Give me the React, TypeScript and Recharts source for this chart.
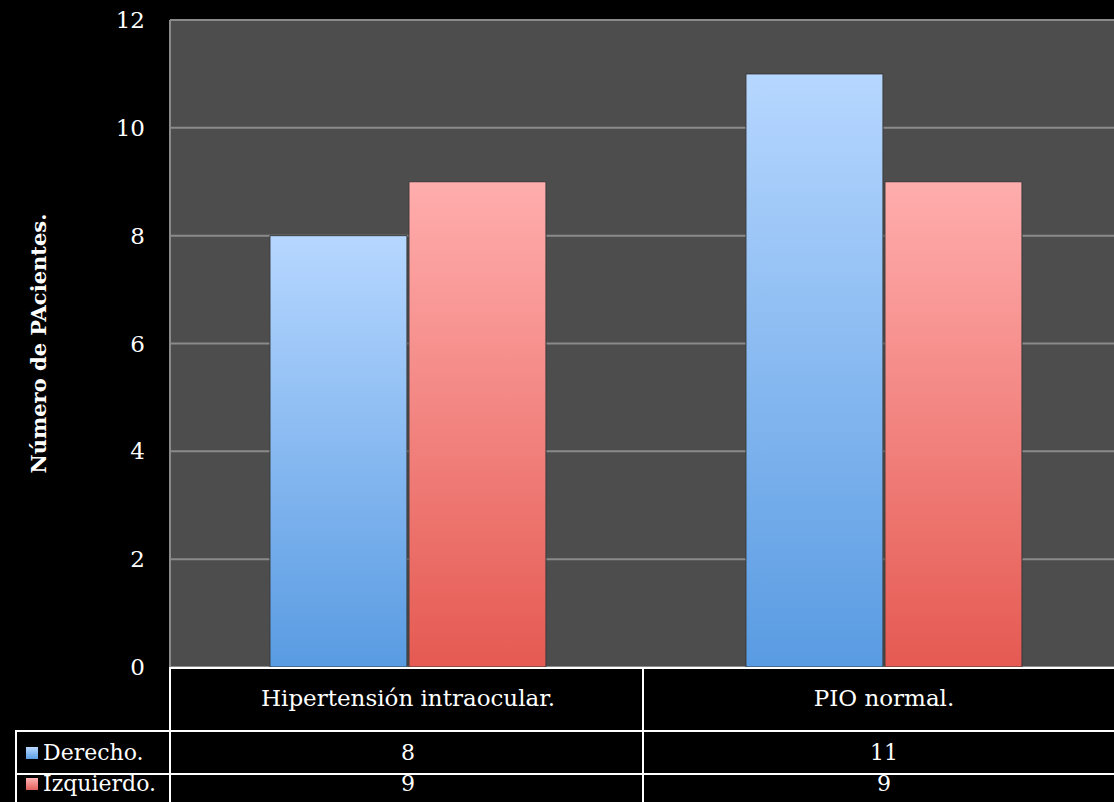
import React from "react";
import { BarChart, Bar, XAxis, YAxis, CartesianGrid } from "recharts";

const categories = ["Hipertensión intraocular.", "PIO normal."];
const derecho = [8, 11];
const izquierdo = [9, 9];
const seriesNames = ["Derecho.", "Izquierdo."];
const yTicks = [0, 2, 4, 6, 8, 10, 12];

const W = 1114;
const H = 802;
const PLOT_LEFT = 170;
const PLOT_TOP = 20;
const PLOT_BOTTOM = 667;
const OVERHANG = 8; // plot runs a little past the right edge
const FONT = "'DejaVu Serif', 'Liberation Serif', serif";

const data = categories.map((c, i) => ({ name: c, derecho: derecho[i], izquierdo: izquierdo[i] }));

const line = "#ffffff";

function Table() {
  const colW = (W + OVERHANG - PLOT_LEFT) / categories.length;
  // last row is cut by the bottom edge, so its text sits a bit higher
  const rows = [
    { top: 730, h: 43, values: derecho, color: "blue", textH: 41 },
    { top: 773, h: 29, values: izquierdo, color: "red", textH: 17 },
  ];
  const cellText: React.CSSProperties = {
    position: "absolute",
    color: "#fff",
    fontFamily: FONT,
    fontSize: 22,
    display: "flex",
    alignItems: "center",
    justifyContent: "center",
    boxSizing: "border-box",
    whiteSpace: "nowrap",
  };
  return (
    <>
      {/* category header row */}
      <div style={{ position: "absolute", left: PLOT_LEFT, top: PLOT_BOTTOM, width: W - PLOT_LEFT, height: 2, background: line }} />
      {categories.map((c, i) => (
        <div key={c} style={{ ...cellText, fontSize: 23, left: PLOT_LEFT + i * colW, top: PLOT_BOTTOM + 1, width: colW, height: 59 }}>
          {c}
        </div>
      ))}
      {rows.map((r, ri) => (
        <React.Fragment key={ri}>
          <div style={{ position: "absolute", left: 16, top: r.top, width: W - 16, height: 2, background: line }} />
          <div style={{ ...cellText, left: 18, top: r.top + 2, width: PLOT_LEFT - 18, height: r.textH, justifyContent: "flex-start" }}>
            <span
              style={{
                display: "inline-block",
                width: 12,
                height: 12,
                marginLeft: 8,
                marginRight: 5,
                background:
                  r.color === "blue"
                    ? "linear-gradient(#b9d9ff, #5a9de3)"
                    : "linear-gradient(#ffb3b3, #e0605a)",
              }}
            />
            {seriesNames[ri]}
          </div>
          {r.values.map((v, i) => (
            <div key={i} style={{ ...cellText, left: PLOT_LEFT + i * colW, top: r.top + 2, width: colW, height: r.textH }}>
              {v}
            </div>
          ))}
        </React.Fragment>
      ))}
      {/* vertical lines */}
      <div style={{ position: "absolute", left: 15, top: 730, width: 2, height: H - 730, background: line }} />
      {[0, 1].map((i) => (
        <div key={i} style={{ position: "absolute", left: PLOT_LEFT + i * (colW - 3) - 1, top: PLOT_BOTTOM, width: 2, height: H - PLOT_BOTTOM, background: line }} />
      ))}
    </>
  );
}

export default function App() {
  return (
    <div style={{ position: "absolute", left: 0, top: 0, width: W, height: H, background: "#000", overflow: "hidden" }}>
      <BarChart
        width={W}
        height={H}
        data={data}
        margin={{ top: PLOT_TOP, right: -OVERHANG, bottom: H - PLOT_BOTTOM, left: 0 }}
        barGap={2}
        barCategoryGap="21%"
      >
        <defs>
          <linearGradient id="gBlue" x1="0" y1="0" x2="0" y2="1">
            <stop offset="0%" stopColor="#b6d7ff" />
            <stop offset="100%" stopColor="#599be2" />
          </linearGradient>
          <linearGradient id="gRed" x1="0" y1="0" x2="0" y2="1">
            <stop offset="0%" stopColor="#ffadad" />
            <stop offset="100%" stopColor="#e55a52" />
          </linearGradient>
        </defs>
        <CartesianGrid vertical={false} fill="#4d4d4d" stroke="#8a8a8a" strokeWidth={2} />
        <XAxis dataKey="name" hide />
        <YAxis
          width={PLOT_LEFT}
          domain={[0, 12]}
          ticks={yTicks}
          interval={0}
          tickLine={false}
          tickSize={17}
          tickMargin={8}
          axisLine={{ stroke: "#8a8a8a", strokeWidth: 2 }}
          tick={{ fill: "#ffffff", fontSize: 23, fontFamily: FONT }}
          label={{
            value: "Número de PAcientes.",
            angle: -90,
            position: "insideLeft",
            dx: 34,
            fill: "#ffffff",
            fontSize: 21,
            fontWeight: "bold",
            fontFamily: FONT,
            style: { textAnchor: "middle" },
          }}
        />
        <Bar dataKey="derecho" name={seriesNames[0]} fill="url(#gBlue)" stroke="#3a3a3a" strokeWidth={1} isAnimationActive={false} />
        <Bar dataKey="izquierdo" name={seriesNames[1]} fill="url(#gRed)" stroke="#3a3a3a" strokeWidth={1} isAnimationActive={false} />
      </BarChart>
      <Table />
    </div>
  );
}
